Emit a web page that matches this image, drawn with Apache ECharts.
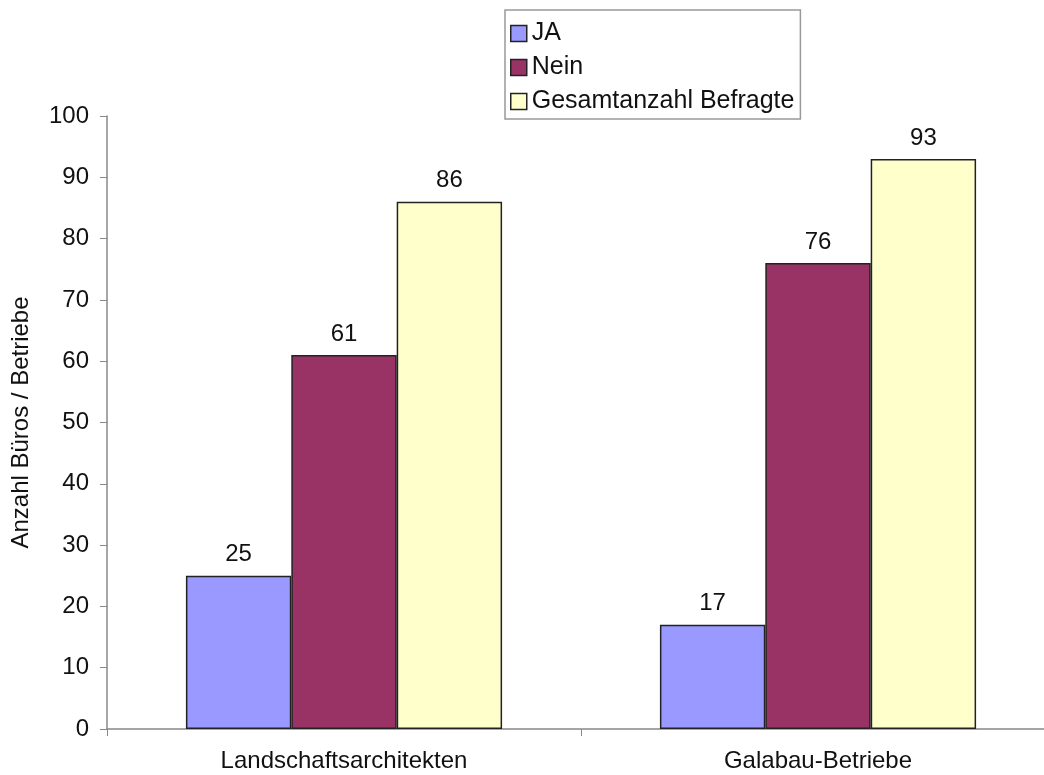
<!DOCTYPE html>
<html><head><meta charset="utf-8">
<script src="https://cdn.jsdelivr.net/npm/echarts@6/dist/echarts.min.js"></script>
<style>html,body{margin:0;padding:0;background:#fff;overflow:hidden}#c{width:1055px;height:775px}</style>
</head><body><div id="c"></div>
<script>
const categories = ['Landschaftsarchitekten', 'Galabau-Betriebe'];
const seriesNames = ['JA', 'Nein', 'Gesamtanzahl Befragte'];
const jaValues = [25, 17];
const neinValues = [61, 76];
const gesamtValues = [86, 93];
const yTicks = [0, 10, 20, 30, 40, 50, 60, 70, 80, 90, 100];
const colors = ['#9999FF', '#993366', '#FFFFCC'];
const font = 'Liberation Sans, Arial, sans-serif';
const chart = echarts.init(document.getElementById('c'));
const mk = (name, data, color) => ({
  name, type: 'bar', data, barGap: 0, barCategoryGap: '33.3%',
  itemStyle: { color, borderColor: '#222', borderWidth: 1.5 },
  label: { show: true, position: 'top', distance: 9, color: '#111', fontSize: 24, fontFamily: font },
  animation: false
});
chart.setOption({
  animation: false,
  legend: {
    orient: 'vertical', left: 505, top: 10, itemWidth: 16, itemHeight: 16, itemGap: 9,
    padding: [11, 6, 5, 5], borderColor: '#999', borderWidth: 1.5,
    textStyle: { fontSize: 25, fontFamily: font, color: '#111', padding: [0, 0, 0, 0] },
    data: seriesNames.map((n) => ({ name: n, icon: 'rect', itemStyle: { borderColor: '#222', borderWidth: 1.5 } }))
  },
  grid: { left: 107, right: 0, top: 116, bottom: 46 },
  xAxis: {
    type: 'category', data: categories,
    axisLine: { lineStyle: { color: '#888', width: 1.5 } },
    axisTick: { show: true, length: 7, lineStyle: { color: '#888' } },
    axisLabel: { fontSize: 24, fontFamily: font, color: '#111', margin: 20 }
  },
  yAxis: {
    type: 'value', min: yTicks[0], max: yTicks[yTicks.length - 1], interval: 10,
    name: 'Anzahl Büros / Betriebe', nameLocation: 'middle', nameGap: 74, nameRotate: 90,
    nameTextStyle: { fontSize: 24, fontFamily: font, color: '#111' },
    axisLine: { show: true, lineStyle: { color: '#888', width: 1.5 } },
    axisTick: { show: true, length: 7, lineStyle: { color: '#888' } },
    splitLine: { show: false },
    axisLabel: { fontSize: 24, fontFamily: font, color: '#111', margin: 18 }
  },
  series: [mk(seriesNames[0], jaValues, colors[0]), mk(seriesNames[1], neinValues, colors[1]), mk(seriesNames[2], gesamtValues, colors[2])]
});
</script></body></html>
